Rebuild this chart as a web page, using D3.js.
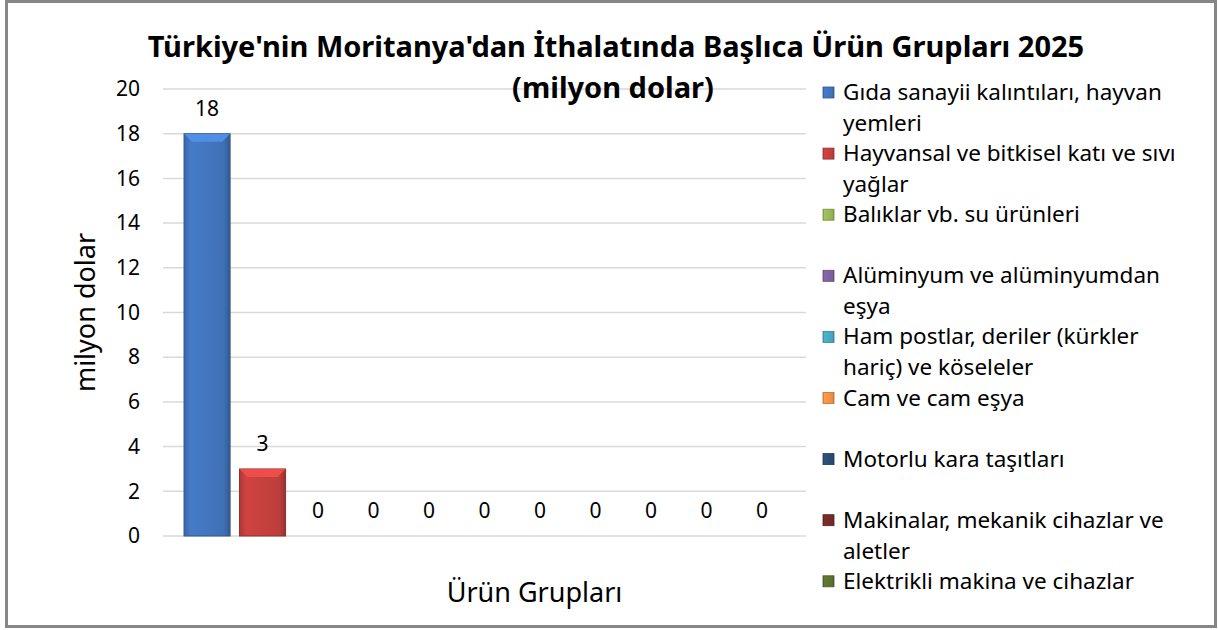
<!DOCTYPE html>
<html>
<head>
<meta charset="utf-8">
<script src="https://cdn.jsdelivr.net/npm/d3@7"></script>
<style>
body { margin:0; background:#fff; }
text { font-family: "Noto Sans", "Open Sans", sans-serif; fill:#000; }
</style>
</head>
<body>
<svg id="chart"></svg>
<script>
// data
var seriesNames = ["Gıda sanayii kalıntıları, hayvan yemleri",
    "Hayvansal ve bitkisel katı ve sıvı yağlar",
    "Balıklar vb. su ürünleri",
    "Alüminyum ve alüminyumdan eşya",
    "Ham postlar, deriler (kürkler hariç) ve köseleler",
    "Cam ve cam eşya",
    "Motorlu kara taşıtları",
    "Makinalar, mekanik cihazlar ve aletler",
    "Elektrikli makina ve cihazlar"]
var legendLines = [["Gıda sanayii kalıntıları, hayvan","yemleri"],
    ["Hayvansal ve bitkisel katı ve sıvı","yağlar"],
    ["Balıklar vb. su ürünleri"],
    ["Alüminyum ve alüminyumdan","eşya"],
    ["Ham postlar, deriler (kürkler","hariç) ve köseleler"],
    ["Cam ve cam eşya"],
    ["Motorlu kara taşıtları"],
    ["Makinalar, mekanik cihazlar ve","aletler"],
    ["Elektrikli makina ve cihazlar"]]
var values = [18, 3, 0, 0, 0, 0, 0, 0, 0, 0, 0]
var categories = ["Ürün Grupları"]
var yTicks = [0, 2, 4, 6, 8, 10, 12, 14, 16, 18, 20]
var colors = ["#4377C0","#C8413E","#9BBB59","#8064A2","#4BACC6","#F79646",
              "#2C4D75","#772C2A","#5F7530","#4D3B62","#276A7C"]

var screen = {width:1218, height:630}
var margins = {top:89, left:163, right:412, bottom:94}
var graph = {
    width: screen.width - margins.left - margins.right,
    height: screen.height - margins.top - margins.bottom
}

var svg = d3.select("#chart")
    .attr("width", screen.width)
    .attr("height", screen.height)

var defs = svg.append("defs")
colors.forEach(function(c, i) {
    var g = defs.append("linearGradient").attr("id", "grad" + i)
        .attr("x1", 0).attr("x2", 1).attr("y1", 0).attr("y2", 0)
    g.append("stop").attr("offset", "0%").attr("stop-color", d3.color(c).darker(0.4))
    g.append("stop").attr("offset", "14%").attr("stop-color", d3.color(c).brighter(0.1))
    g.append("stop").attr("offset", "86%").attr("stop-color", d3.color(c).darker(0.15))
    g.append("stop").attr("offset", "100%").attr("stop-color", d3.color(c).darker(0.8))
})

// frame
svg.append("rect")
    .attr("x", 6.5).attr("y", 1.5)
    .attr("width", 1209).attr("height", 625)
    .attr("fill", "#fff")
    .attr("stroke", "#868686")
    .attr("stroke-width", 3)

var xScale0 = d3.scaleBand()
    .domain(categories)
    .range([0, graph.width])
    .paddingInner(0)
    .paddingOuter(0.035)
var xScale1 = d3.scaleBand()
    .domain(d3.range(values.length))
    .range([0, xScale0.bandwidth()])
    .paddingInner(0.17)
var yScale = d3.scaleLinear()
    .domain([0, 20])
    .range([graph.height, 0])

var g = svg.append("g")
    .attr("transform", "translate(" + margins.left + "," + margins.top + ")")

// gridlines
g.append("g").selectAll("line")
    .data(yTicks)
    .enter().append("line")
    .attr("x1", 0).attr("x2", graph.width)
    .attr("y1", function(d) { return yScale(d) })
    .attr("y2", function(d) { return yScale(d) })
    .attr("stroke", "#d9d9d9")
    .attr("stroke-width", 1.5)

// y axis labels
var yAxis = d3.axisLeft(yScale).tickValues(yTicks).tickSize(0).tickPadding(23)
var ya = g.append("g").call(yAxis)
ya.select(".domain").remove()
ya.selectAll("text")
    .style("font-family", "\"Noto Sans\", sans-serif")
    .style("font-size", "21px")
    .attr("fill", "#000")

var bars = g.append("g")
    .attr("transform", "translate(" + xScale0(categories[0]) + ",0)")

var barG = bars.selectAll("g.bar")
    .data(values)
    .enter().append("g")
    .classed("bar", true)

var shown = barG.filter(function(d) { return d > 0 })
shown.append("rect")
    .attr("x", function(d, i) { return xScale1(i) })
    .attr("y", function(d) { return yScale(d) })
    .attr("width", xScale1.bandwidth())
    .attr("height", function(d) { return graph.height - yScale(d) })
    .attr("fill", function(d, i) { return "url(#grad" + i + ")" })
    .attr("stroke", function(d, i) { return d3.color(colors[i]).darker(0.9) })
    .attr("stroke-width", 1)

// bevel top
shown.append("path")
    .attr("d", function(d, i) {
        var x = xScale1(i), w = xScale1.bandwidth(), y = yScale(d), b = 8
        return "M" + x + "," + y + "L" + (x + w) + "," + y + "L" + (x + w - b) + "," + (y + b) +
            "L" + (x + b) + "," + (y + b) + "Z"
    })
    .attr("fill", function(d, i) { return d3.color(colors[i]).brighter(0.55) })
    .attr("opacity", 0.9)

barG.append("text")
    .text(function(d) { return d })
    .attr("x", function(d, i) { return xScale1(i) + xScale1.bandwidth() / 2 })
    .attr("y", function(d) { return yScale(d) - 18 })
    .attr("text-anchor", "middle")
    .style("font-size", "21px")

// titles
var labels = svg.append("g")
labels.append("text")
    .text("Türkiye'nin Moritanya'dan İthalatında Başlıca Ürün Grupları 2025")
    .attr("x", 616).attr("y", 57)
    .attr("text-anchor", "middle")
    .style("font-size", "29px").style("font-weight", "bold")
labels.append("text")
    .text("(milyon dolar)")
    .attr("x", 613).attr("y", 98)
    .attr("text-anchor", "middle")
    .style("font-size", "29px").style("font-weight", "bold")
labels.append("text")
    .text(categories[0])
    .attr("x", margins.left + graph.width / 2 + 50)
    .attr("y", 602)
    .attr("text-anchor", "middle")
    .style("font-size", "27px")
labels.append("g")
    .attr("transform", "translate(95," + (margins.top + graph.height / 2) + ")")
    .append("text")
    .text("milyon dolar")
    .attr("text-anchor", "middle")
    .attr("transform", "rotate(270)")
    .style("font-size", "27px")

// legend
var legend = svg.append("g")
    .attr("transform", "translate(823,92)")
var item = legend.selectAll("g")
    .data(seriesNames)
    .enter().append("g")
    .attr("transform", function(d, i) { return "translate(0," + (i * 61.1) + ")" })
item.append("rect")
    .attr("x", 0).attr("y", -5)
    .attr("width", 11).attr("height", 11)
    .attr("fill", function(d, i) { return "url(#grad" + i + ")" })
    .attr("stroke", function(d, i) { return d3.color(colors[i]).darker(0.8) })
    .attr("stroke-width", 0.8)
item.append("text")
    .attr("x", 20).attr("y", 8)
    .style("font-size", "22.5px")
    .selectAll("tspan")
    .data(function(d, i) { return legendLines[i] })
    .enter().append("tspan")
    .attr("x", 20)
    .attr("dy", function(d, j) { return j == 0 ? 0 : 31 })
    .text(function(d) { return d })
</script>
</body>
</html>
